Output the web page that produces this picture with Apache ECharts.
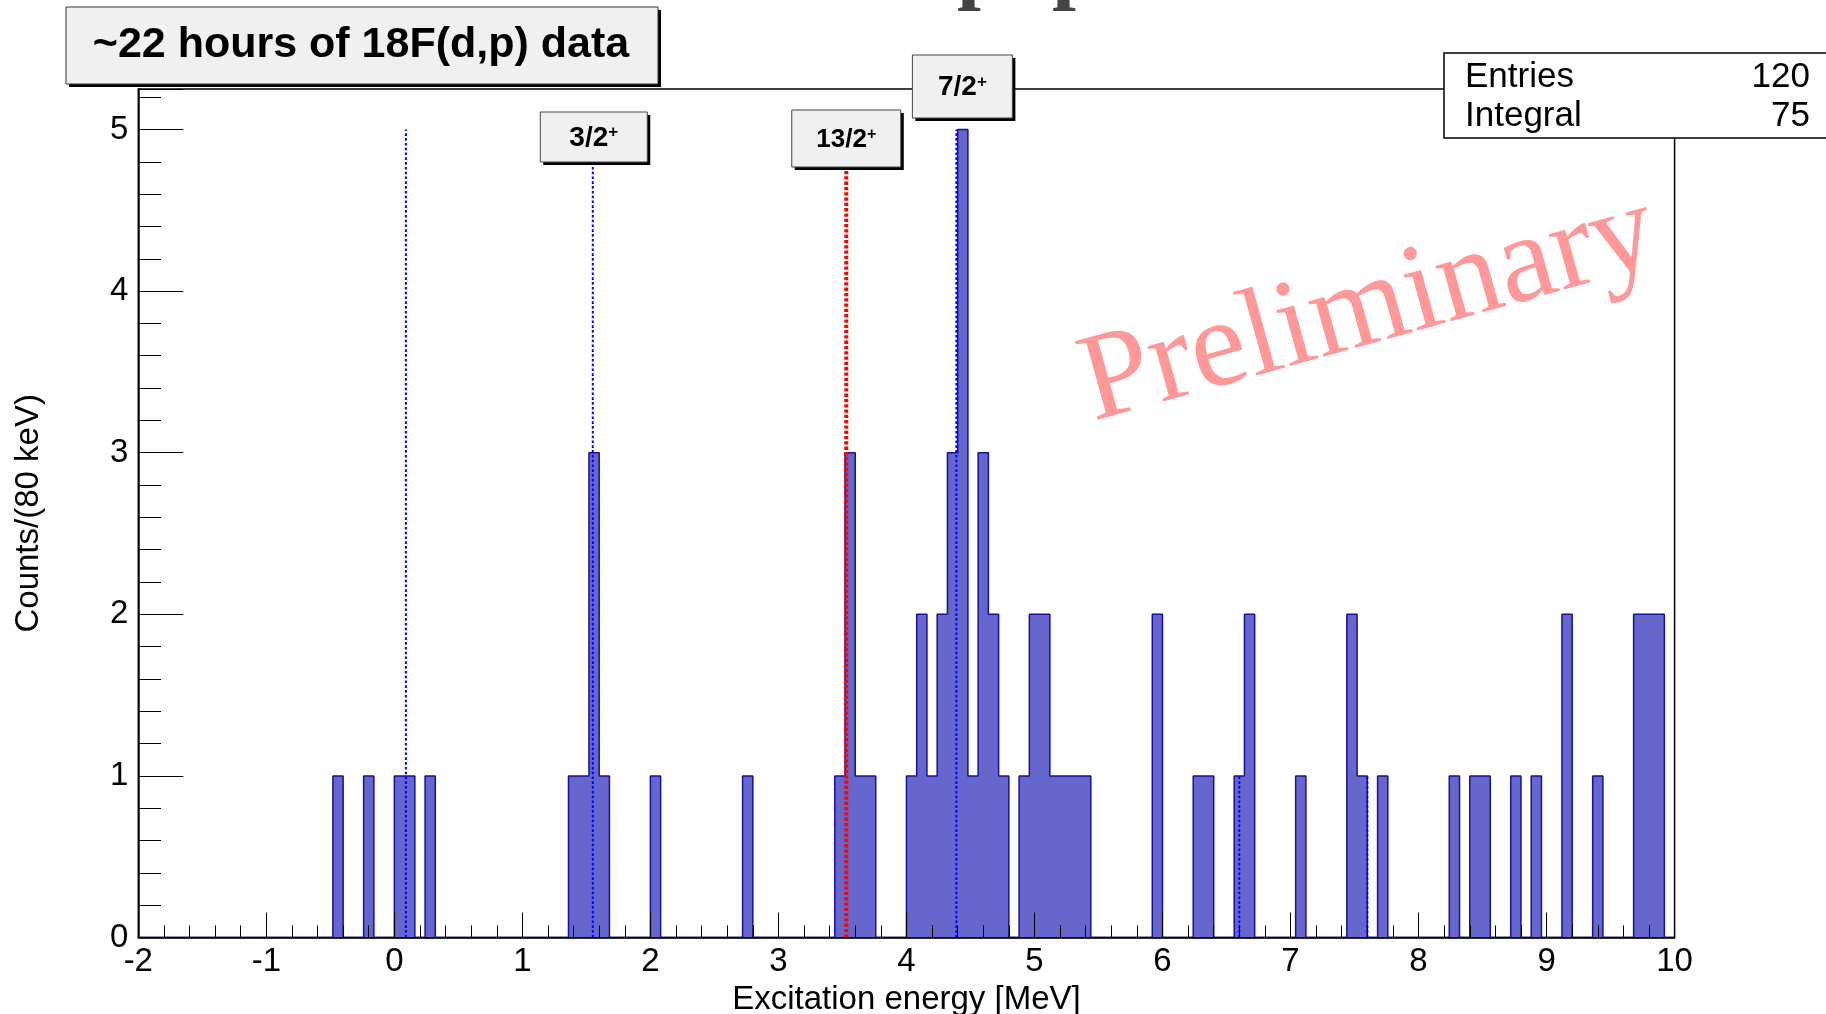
<!DOCTYPE html>
<html>
<head>
<meta charset="utf-8">
<title>18F(d,p) excitation energy</title>
<script src="https://cdn.jsdelivr.net/npm/echarts@6/dist/echarts.min.js"></script>
<style>
  html, body { margin: 0; padding: 0; background: #ffffff; }
  #chart { width: 1826px; height: 1014px; }
</style>
</head>
<body>
<div id="chart"></div>
<script>
// Histogram binning (80 keV bins from -2 to 10 MeV)
const xMin = -2;
const xMax = 10;
const binWidth = 0.08;
const yMax = 5.25;

// Lower edges (MeV) of the occupied bins and their counts
const binLow = [
  -0.48, -0.24, 0.00, 0.08, 0.24,
  1.36, 1.44, 1.52, 1.60, 2.00, 2.72,
  3.44, 3.52, 3.60, 3.68,
  4.00, 4.08, 4.16, 4.24, 4.32, 4.40, 4.48, 4.56, 4.64, 4.72,
  4.88, 4.96, 5.04, 5.12, 5.20, 5.28, 5.36,
  5.92, 6.24, 6.32, 6.56, 6.64, 7.04, 7.44, 7.52, 7.68,
  8.24, 8.40, 8.48, 8.72, 8.88, 9.12, 9.36, 9.68, 9.76, 9.84
];
const binCounts = [
  1, 1, 1, 1, 1,
  1, 1, 3, 1, 1, 1,
  1, 3, 1, 1,
  1, 2, 1, 2, 3, 5, 1, 3, 2, 1,
  1, 2, 2, 1, 1, 1, 1,
  2, 1, 1, 1, 2, 1, 2, 1, 1,
  1, 1, 1, 1, 1, 2, 1, 2, 2, 2
];

// Known levels drawn as dotted markers
const levelEnergy = [0.09, 1.55, 3.53, 4.39, 6.60, 7.60];
const levelTop = [5, 4.8, 4.8, 5, 1, 1];
const levelLabel = ['', '3/2', '13/2', '7/2', '', ''];

// Statistics box
const statNames = ['Entries', 'Integral'];
const statValues = [120, 75];

const titleText = '~22 hours of 18F(d,p) data';

// Full histogram table built from the occupied bins
const nBins = Math.round((xMax - xMin) / binWidth);
const fullCounts = new Array(nBins).fill(0);
binLow.forEach((lo, i) => {
  fullCounts[Math.round((lo - xMin) / binWidth)] = binCounts[i];
});
const stepPoints = fullCounts.map((c, k) => [+(xMin + k * binWidth).toFixed(2), c]);
stepPoints.push([xMax, fullCounts[nBins - 1]]);

const SANS = '"Liberation Sans", Arial, Helvetica, sans-serif';
const SERIF = '"Liberation Serif", "Times New Roman", serif';

// Label box layout for the annotated levels
const boxLayout = {
  '3/2':  { top: 112, w: 107, h: 50, dx: 1, font: 28 },
  '13/2': { top: 110, w: 109, h: 57, dx: 0, font: 26 },
  '7/2':  { top: 55,  w: 100, h: 63, dx: 6, font: 28 }
};

const chart = echarts.init(document.getElementById('chart'), null, { renderer: 'canvas' });

const option = {
  backgroundColor: '#ffffff',
  animation: false,
  grid: {
    left: 138.3, right: 151.4, top: 89.1, bottom: 76.5,
    show: true, borderColor: '#000', borderWidth: 1.5,
    outerBoundsMode: 'none'
  },
  xAxis: {
    type: 'value', min: xMin, max: xMax, interval: 1, z: 10,
    axisLine: { show: true, onZero: false, lineStyle: { color: '#000', width: 1.5 } },
    axisTick: { show: true, inside: true, length: 25, lineStyle: { color: '#000', width: 1 } },
    minorTick: { show: true, splitNumber: 5, length: 12, lineStyle: { color: '#000', width: 1 } },
    splitLine: { show: false },
    minorSplitLine: { show: false },
    axisLabel: { color: '#000', fontSize: 33, fontFamily: SANS, margin: 8 },
    name: 'Excitation energy [MeV]',
    nameLocation: 'middle', nameGap: 44,
    nameTextStyle: { color: '#000', fontSize: 33, fontFamily: SANS }
  },
  yAxis: {
    type: 'value', min: 0, max: yMax, interval: 1, z: 10,
    axisLine: { show: true, onZero: false, lineStyle: { color: '#000', width: 1.5 } },
    axisTick: { show: true, inside: true, length: 45, lineStyle: { color: '#000', width: 1 } },
    minorTick: { show: true, splitNumber: 5, length: 22.7, lineStyle: { color: '#000', width: 1 } },
    splitLine: { show: false },
    minorSplitLine: { show: false },
    axisLabel: {
      color: '#000', fontSize: 33, fontFamily: SANS, margin: 10,
      formatter: v => (Number.isInteger(v) ? String(v) : '')
    },
    name: 'Counts/(80 keV)',
    nameLocation: 'middle', nameGap: 93, nameRotate: 90,
    nameTextStyle: { color: '#000', fontSize: 33, fontFamily: SANS }
  },
  series: [
    {
      name: 'histogram',
      type: 'line',
      step: 'end',
      symbol: 'none',
      z: 2,
      data: stepPoints,
      lineStyle: { color: '#12129a', width: 1.5 },
      areaStyle: { color: '#6666cc', opacity: 1 }
    },
    {
      name: 'levels',
      type: 'custom',
      z: 5,
      clip: false,
      data: levelEnergy.map((e, i) => [e, levelTop[i]]),
      renderItem: (params, api) => {
        const i = params.dataIndex;
        const e = api.value(0);
        const top = api.value(1);
        const p0 = api.coord([e, 0]);
        const p1 = api.coord([e, top]);
        const lab = levelLabel[i];
        const red = lab === '13/2';
        const children = [{
          type: 'line',
          shape: { x1: p0[0], y1: p0[1], x2: p1[0], y2: p1[1] },
          style: {
            stroke: red ? '#ff0000' : '#0000ff',
            lineWidth: red ? 4 : 2,
            lineDash: red ? [3.3, 2] : [2.6, 2.2]
          }
        }];
        if (lab) {
          const b = boxLayout[lab];
          const cx = p0[0] + b.dx;
          const x = cx - b.w / 2;
          children.push({
            type: 'rect', shape: { x: x + 3, y: b.top + 3, width: b.w, height: b.h },
            style: { fill: '#000' }
          });
          children.push({
            type: 'rect', shape: { x: x, y: b.top, width: b.w, height: b.h },
            style: { fill: '#f0f0f0', stroke: '#444', lineWidth: 1 }
          });
          children.push({
            type: 'text', x: cx, y: b.top + b.h / 2 + 1,
            style: {
              text: '{n|' + lab + '}{s|+}',
              align: 'center', verticalAlign: 'middle',
              rich: {
                n: { fontSize: b.font, fontWeight: 'bold', fontFamily: SANS, fill: '#000' },
                s: { fontSize: Math.round(b.font * 0.6), fontWeight: 'bold', fontFamily: SANS, fill: '#000', verticalAlign: 'top' }
              }
            }
          });
        }
        return { type: 'group', children: children };
      }
    }
  ],
  graphic: [
    // clipped heading glyphs at the top edge
    { type: 'text', z: 15, x: 957, y: 13,
      style: { text: 'p', font: 'bold 86px ' + SERIF, fill: '#444', align: 'left', verticalAlign: 'bottom' } },
    { type: 'text', z: 15, x: 1052, y: 13,
      style: { text: 'p', font: 'bold 86px ' + SERIF, fill: '#444', align: 'left', verticalAlign: 'bottom' } },
    // title box
    { type: 'rect', z: 20, shape: { x: 69, y: 10, width: 592, height: 77 }, style: { fill: '#000' } },
    { type: 'rect', z: 21, shape: { x: 66, y: 7, width: 592, height: 77 },
      style: { fill: '#f0f0f0', stroke: '#333', lineWidth: 1 } },
    { type: 'text', z: 22, x: 361, y: 45,
      style: { text: titleText, font: 'bold 43px ' + SANS, fill: '#000', align: 'center', verticalAlign: 'middle' } },
    // statistics box
    { type: 'rect', z: 20, shape: { x: 1444, y: 53, width: 420, height: 85 },
      style: { fill: '#fff', stroke: '#000', lineWidth: 1.5 } },
    { type: 'text', z: 22, x: 1465, y: 77,
      style: { text: statNames[0], font: '35px ' + SANS, fill: '#000', align: 'left', verticalAlign: 'middle' } },
    { type: 'text', z: 22, x: 1810, y: 77,
      style: { text: String(statValues[0]), font: '35px ' + SANS, fill: '#000', align: 'right', verticalAlign: 'middle' } },
    { type: 'text', z: 22, x: 1465, y: 116,
      style: { text: statNames[1], font: '35px ' + SANS, fill: '#000', align: 'left', verticalAlign: 'middle' } },
    { type: 'text', z: 22, x: 1810, y: 116,
      style: { text: String(statValues[1]), font: '35px ' + SANS, fill: '#000', align: 'right', verticalAlign: 'middle' } },
    // watermark
    { type: 'text', z: 15, x: 1369, y: 310, rotation: 15.6 * Math.PI / 180,
      style: { text: 'Preliminary', font: '125px ' + SERIF, fill: '#ff9999', align: 'center', verticalAlign: 'middle' } }
  ]
};

chart.setOption(option);
</script>
</body>
</html>
